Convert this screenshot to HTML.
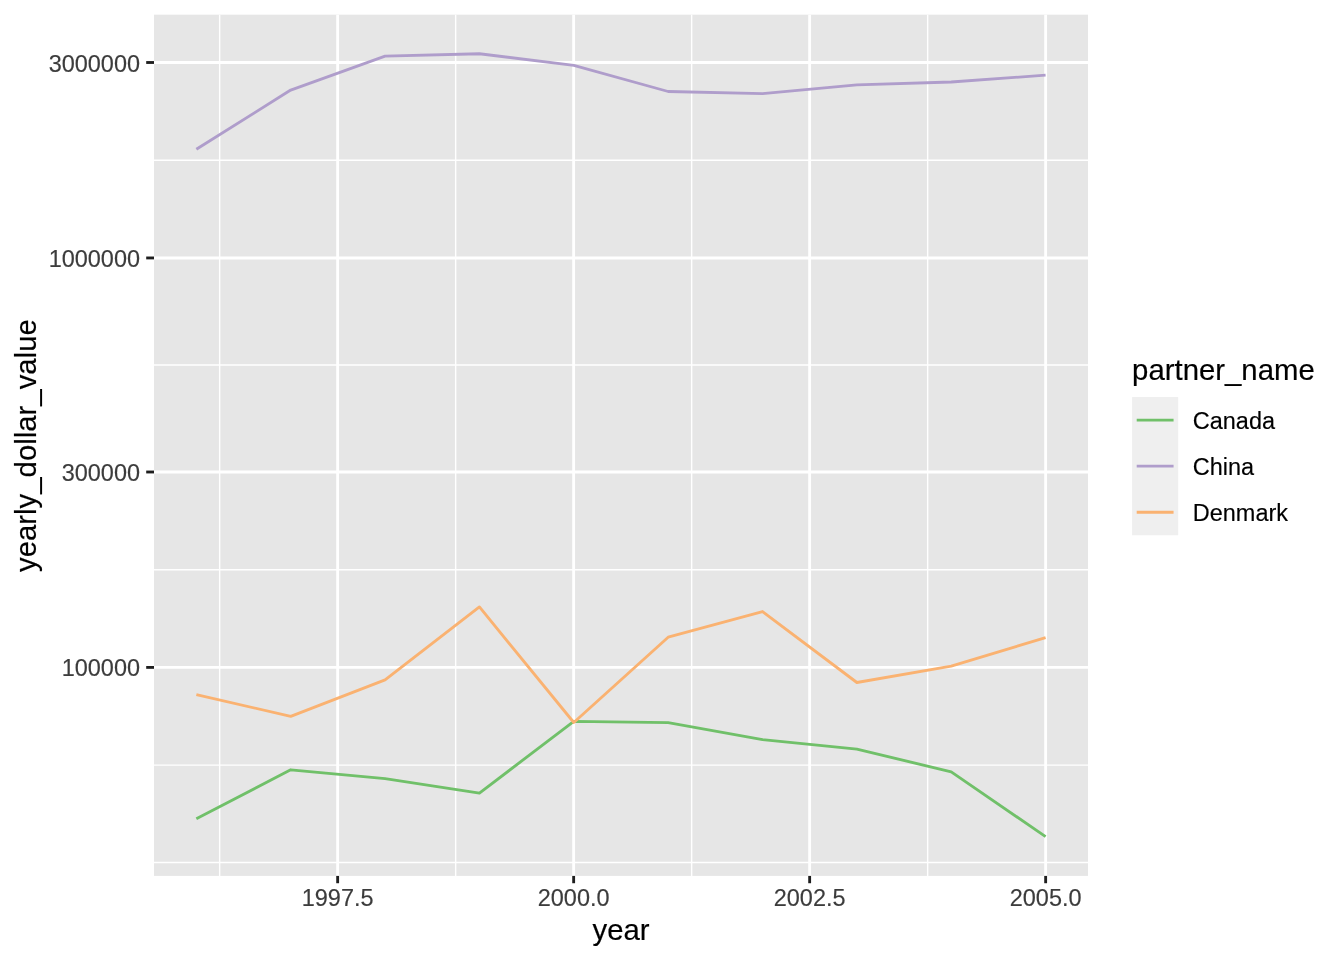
<!DOCTYPE html>
<html lang="en"><head><meta charset="utf-8"><title>yearly_dollar_value by year</title>
<style>html,body{margin:0;padding:0;background:#fff}body{width:1344px;height:960px;overflow:hidden}svg{display:block}text{font-family:"Liberation Sans",Arial,Helvetica,sans-serif}.ax{font-size:23.47px;fill:#3C3C3C;stroke:#3C3C3C;stroke-width:.15px}.tt{font-size:29.33px;fill:#000;stroke:#000;stroke-width:.18px}.lg{font-size:23.47px;fill:#000;stroke:#000;stroke-width:.15px}</style>
</head><body>
<svg width="1344" height="960" viewBox="0 0 1344 960">
<rect x="0" y="0" width="1344" height="960" fill="#FFFFFF"/>
<rect x="154.0" y="14.67" width="934.0" height="861.23" fill="#E6E6E6"/>
<g stroke="#FFFFFF" stroke-width="1.42" fill="none">
<line x1="154.0" x2="1088.0" y1="160.25" y2="160.25"/>
<line x1="154.0" x2="1088.0" y1="364.95" y2="364.95"/>
<line x1="154.0" x2="1088.0" y1="569.7" y2="569.7"/>
<line x1="154.0" x2="1088.0" y1="765.1" y2="765.1"/>
<line x1="154.0" x2="1088.0" y1="862.55" y2="862.55"/>
<line x1="219.65" x2="219.65" y1="14.67" y2="875.9"/>
<line x1="455.65" x2="455.65" y1="14.67" y2="875.9"/>
<line x1="691.65" x2="691.65" y1="14.67" y2="875.9"/>
<line x1="927.65" x2="927.65" y1="14.67" y2="875.9"/>
</g>
<g stroke="#FFFFFF" stroke-width="2.85" fill="none">
<line x1="154.0" x2="1088.0" y1="62.5" y2="62.5"/>
<line x1="154.0" x2="1088.0" y1="257.95" y2="257.95"/>
<line x1="154.0" x2="1088.0" y1="472.0" y2="472.0"/>
<line x1="154.0" x2="1088.0" y1="667.4" y2="667.4"/>
<line x1="337.65" x2="337.65" y1="14.67" y2="875.9"/>
<line x1="573.65" x2="573.65" y1="14.67" y2="875.9"/>
<line x1="809.65" x2="809.65" y1="14.67" y2="875.9"/>
<line x1="1045.65" x2="1045.65" y1="14.67" y2="875.9"/>
</g>
<polyline points="196.35,818.70 290.71,769.80 385.07,778.60 479.43,793.10 573.79,721.30 668.15,722.70 762.51,739.60 856.87,749.20 951.23,771.80 1045.59,836.60" fill="none" stroke="#70C069" stroke-width="2.85" stroke-linejoin="round" stroke-linecap="butt"/>
<polyline points="196.35,149.20 290.71,90.05 385.07,56.15 479.43,53.75 573.79,65.35 668.15,91.50 762.51,93.60 856.87,84.80 951.23,82.00 1045.59,75.20" fill="none" stroke="#AF9DCB" stroke-width="2.85" stroke-linejoin="round" stroke-linecap="butt"/>
<polyline points="196.35,694.70 290.71,716.30 385.07,679.90 479.43,606.95 573.79,722.50 668.15,637.20 762.51,611.55 856.87,682.50 951.23,666.20 1045.59,637.60" fill="none" stroke="#FAB271" stroke-width="2.85" stroke-linejoin="round" stroke-linecap="butt"/>
<g stroke="#1E1E1E" stroke-width="2.85" fill="none">
<line x1="146.20" x2="154.0" y1="62.5" y2="62.5"/>
<line x1="146.20" x2="154.0" y1="257.95" y2="257.95"/>
<line x1="146.20" x2="154.0" y1="472.0" y2="472.0"/>
<line x1="146.20" x2="154.0" y1="667.4" y2="667.4"/>
<line x1="337.65" x2="337.65" y1="875.9" y2="883.23"/>
<line x1="573.65" x2="573.65" y1="875.9" y2="883.23"/>
<line x1="809.65" x2="809.65" y1="875.9" y2="883.23"/>
<line x1="1045.65" x2="1045.65" y1="875.9" y2="883.23"/>
</g>
<text class="ax" x="140.0" y="72.10" text-anchor="end">3000000</text>
<text class="ax" x="140.0" y="267.00" text-anchor="end">1000000</text>
<text class="ax" x="140.0" y="481.00" text-anchor="end">300000</text>
<text class="ax" x="140.0" y="676.00" text-anchor="end">100000</text>
<text class="ax" x="337.65" y="906.0" text-anchor="middle">1997.5</text>
<text class="ax" x="573.65" y="906.0" text-anchor="middle">2000.0</text>
<text class="ax" x="809.65" y="906.0" text-anchor="middle">2002.5</text>
<text class="ax" x="1045.65" y="906.0" text-anchor="middle">2005.0</text>
<text class="tt" x="621" y="940" text-anchor="middle">year</text>
<text class="tt" transform="translate(35.8,445.6) rotate(-90)" text-anchor="middle">yearly_dollar_value</text>
<text class="tt" x="1132.1" y="379.9">partner_name</text>
<rect x="1132.1" y="397.05" width="46.08" height="138.24" fill="#EFEFEF"/>
<line x1="1136.71" x2="1173.57" y1="420.09" y2="420.09" stroke="#70C069" stroke-width="2.85"/>
<text class="lg" x="1192.8" y="429.00">Canada</text>
<line x1="1136.71" x2="1173.57" y1="466.17" y2="466.17" stroke="#AF9DCB" stroke-width="2.85"/>
<text class="lg" x="1192.8" y="475.20">China</text>
<line x1="1136.71" x2="1173.57" y1="512.25" y2="512.25" stroke="#FAB271" stroke-width="2.85"/>
<text class="lg" x="1192.8" y="521.10">Denmark</text>
</svg>
</body></html>
